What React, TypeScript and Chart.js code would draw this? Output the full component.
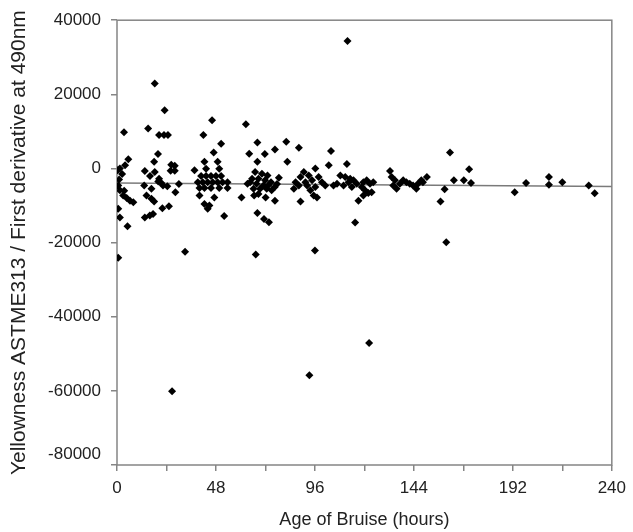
import React, { useEffect, useRef } from "react";
import { Chart, registerables } from "chart.js";

Chart.register(...registerables);

// Age of bruise (hours) for each observation
const bruiseAgeHours = [
  0.3, 1.4, 2.5, 0.6, 1.4, 3.0, 4.7, 6.3, 7.9, 0.6, 1.4, 5.1, 0.6, 3.4, 5.5, 3.9, 1.0, 3.5,
  18.3, 23.1, 15.1, 20.4, 22.8, 24.7, 19.9, 18.0, 26.3, 28.0, 26.0, 28.0, 13.5, 18.3, 20.4, 16.7, 22.3, 24.4,
  13.2, 14.3, 16.7, 18.0, 28.3, 13.5, 15.9, 17.5, 22.0, 25.2, 26.7, 20.0, 21.5, 16.0, 30.0,
  33.0, 46.1, 41.9, 50.5, 46.9, 42.4, 48.8, 37.6, 43.2, 49.6, 40.8, 43.2, 45.6, 48.0, 50.5, 39.2, 41.6,
  44.0, 46.4, 48.8, 51.2, 53.6, 40.0, 42.4, 45.6, 49.6, 53.6, 40.0, 47.2, 42.4, 44.8, 44.0, 52.0,
  62.5, 68.1, 64.1, 71.7, 76.6, 82.1, 68.1, 82.6, 67.0, 70.3, 73.0, 65.5, 68.6, 71.8, 74.7, 64.6, 67.7,
  71.0, 73.3, 76.5, 66.2, 69.4, 72.6, 75.0, 68.6, 63.3, 77.6, 78.5, 60.4, 66.5, 72.1, 76.6, 68.1, 71.3,
  73.7, 67.3,
  88.2, 103.8, 102.7, 96.2, 90.6, 93.0, 89.0, 97.8, 86.6, 91.4, 94.6, 99.4, 88.2, 92.2, 96.2, 101.0,
  85.8, 93.8, 95.4, 97.0, 89.0, 93.3, 96.0, 105.0,
  111.8, 111.5, 117.1, 119.5, 121.9, 115.5, 122.3, 108.3, 110.7, 113.1, 114.7, 112.3, 116.3, 119.5,
  121.1, 106.7, 109.9, 113.9, 118.7, 120.3, 122.7, 124.3, 123.5,
  132.4, 150.3, 133.2, 134.8, 134.0, 135.6, 137.2, 138.8, 140.4, 142.0, 143.6, 145.2, 146.0, 147.6, 148.4,
  161.5, 170.8, 163.4, 168.2, 171.7, 158.9, 156.9, 159.7,
  192.9, 198.4, 209.5, 209.5, 216.0, 228.8, 231.7,
];

// Yellowness ASTME313 / first derivative at 490nm
const yellowness = [
  -500, 0, -1500, -4600, -5900, -7300, -8000, -8700, -9100, -10900, -13200, -15600, -24100, 9800, 2500, 900, -3000, -6000,
  22900, 15700, 10800, 9000, 9000, 9000, 3900, 1800, 1000, 700, -600, -600, -700, -950, -2800, -5500, -4600, -4800,
  -4600, -7300, -8200, -8900, -6400, -13200, -12700, -12300, -10700, -10200, -60100, -3500, -3900, -2000, -4200,
  -22500, 13000, 9000, 6700, 4300, 1800, 1800, -500, -50, -50, -2000, -2000, -2000, -2000, -2000, -3700, -3700,
  -3700, -3700, -3700, -3700, -3700, -5300, -5300, -5300, -5300, -5300, -7300, -7800, -9600, -10000, -10900, -12800,
  11900, 7000, 4000, 3900, 5100, 7200, 1800, 1800, -950, -1400, -1900, -2800, -2800, -3200, -3700, -3700, -4100,
  -4600, -4600, -5000, -5500, -5500, -5500, -5900, -6900, -4100, -4200, -2500, -7800, -7300, -7800, -8700, -12000, -13600,
  -14500, -23200,
  5600, 4700, 900, 0, -950, -1900, -2300, -2300, -3700, -3700, -3200, -3700, -4600, -4600, -5000, -4600,
  -5500, -5900, -7300, -7800, -8900, -55800, -22100, -4600,
  34400, 1200, -8700, -7300, -6600, -14600, -47100, -1900, -2300, -2800, -3200, -3700, -4100, -3700,
  -3200, -4100, -4600, -5000, -5000, -5900, -4100, -3700, -6400,
  -700, -2300, -2300, -3200, -4600, -5500, -4100, -3200, -3700, -4100, -4600, -5500, -4100, -3200, -3700,
  4300, -200, -3200, -3200, -3900, -5600, -8900, -19900,
  -6400, -3900, -2300, -4400, -3700, -4600, -6700,
];

// Linear trend line end points
const trendHours = [0, 240];
const trendValues = [-3900, -4850];

// Axis ticks
const xTickValues = [0, 24, 48, 72, 96, 120, 144, 168, 192, 216, 240];
const xLabelEvery = 48;
const yTickValues = [-80000, -60000, -40000, -20000, 0, 20000, 40000];

const AXIS_GREY = "#858585";
const FONT = "'Liberation Sans', Arial, sans-serif";

export default function App() {
  const canvasRef = useRef<HTMLCanvasElement>(null);

  useEffect(() => {
    if (!canvasRef.current) return;
    const boxPlugin = {
      id: "plotBox",
      beforeDatasetsDraw(chart: any) {
        const { ctx, chartArea } = chart;
        ctx.save();
        ctx.strokeStyle = AXIS_GREY;
        ctx.lineWidth = 1.5;
        ctx.strokeRect(chartArea.left, chartArea.top, chartArea.right - chartArea.left, chartArea.bottom - chartArea.top);
        ctx.restore();
      },
    };

    const chart = new Chart(canvasRef.current, {
      type: "scatter",
      data: {
        datasets: [
          {
            type: "line",
            data: trendHours.map((x, i) => ({ x, y: trendValues[i] })),
            borderColor: "#7a7a7a",
            borderWidth: 1.5,
            pointRadius: 0,
            fill: false,
            order: 2,
          } as any,
          {
            data: bruiseAgeHours.map((x, i) => ({ x, y: yellowness[i] })),
            pointStyle: "rectRot",
            pointRadius: 4,
            backgroundColor: "#000",
            borderColor: "#000",
            borderWidth: 0,
            order: 1,
          },
        ],
      },
      options: {
        responsive: false,
        animation: false,
        layout: { padding: { left: 0, top: 19, right: 18, bottom: 0 } },
        plugins: {
          legend: { display: false },
          tooltip: { enabled: false },
        },
        scales: {
          x: {
            type: "linear",
            min: 0,
            max: 240,
            afterBuildTicks: (scale: any) => {
              scale.ticks = xTickValues.map((v) => ({ value: v }));
            },
            afterFit: (scale: any) => {
              scale.height = 67;
            },
            border: { display: false },
            grid: {
              drawOnChartArea: false,
              drawTicks: true,
              tickLength: 6,
              color: AXIS_GREY,
              lineWidth: 1.5,
            },
            ticks: {
              autoSkip: false,
              maxRotation: 0,
              padding: 7,
              color: "#222",
              font: { family: FONT, size: 17 },
              callback: (v: any) => (Number(v) % xLabelEvery === 0 ? String(v) : ""),
            },
            title: {
              display: true,
              text: "Age of Bruise (hours)",
              color: "#222",
              font: { family: FONT, size: 18 },
              padding: { top: 4, bottom: 1 },
            },
          },
          y: {
            type: "linear",
            min: -80000,
            max: 40000,
            afterBuildTicks: (scale: any) => {
              scale.ticks = yTickValues.map((v) => ({ value: v }));
            },
            afterFit: (scale: any) => {
              scale.width = 117;
            },
            border: { display: false },
            grid: {
              drawOnChartArea: false,
              drawTicks: true,
              tickLength: 6,
              color: AXIS_GREY,
              lineWidth: 1.5,
            },
            ticks: {
              padding: 10,
              color: "#222",
              font: { family: FONT, size: 17 },
              callback: (v: any) => (Number(v) === yTickValues[0] ? [String(v), ""] : String(v)),
            },
            title: {
              display: true,
              text: "Yellowness ASTME313 / First derivative at 490nm",
              color: "#222",
              font: { family: FONT, size: 21 },
              padding: { top: 7, bottom: 2 },
            },
          },
        },
      },
      plugins: [boxPlugin],
    });
    return () => chart.destroy();
  }, []);

  return (
    <div style={{ position: "fixed", left: 0, top: 0, width: 633, height: 532, background: "#fff" }}>
      <canvas ref={canvasRef} width={633} height={532} style={{ display: "block" }} />
    </div>
  );
}
